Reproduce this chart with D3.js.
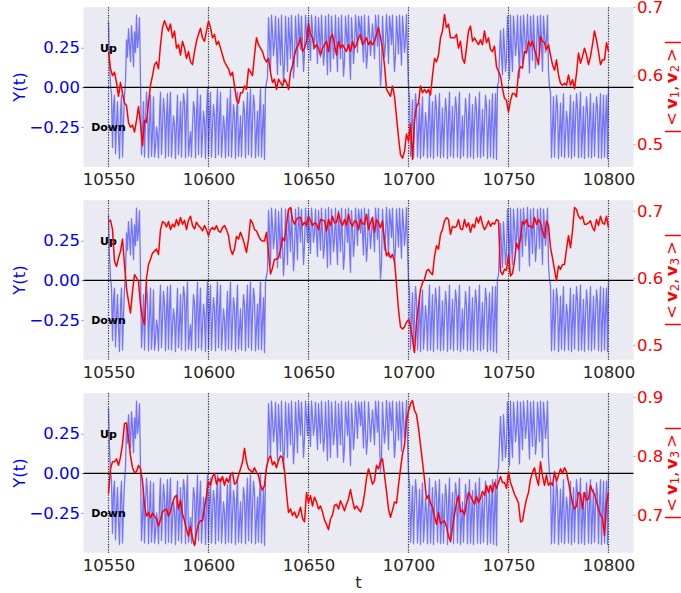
<!DOCTYPE html>
<html>
<head>
<meta charset="utf-8">
<script src="https://cdn.jsdelivr.net/npm/d3@7/dist/d3.min.js"></script>
<style>
  body { margin: 0; background: #ffffff; }
  svg { display: block; }
  text { font-family: "DejaVu Sans", "Liberation Sans", sans-serif; }
</style>
</head>
<body>
<svg id="chart" width="681" height="593"></svg>
<script>
// ---- time axis ----
const tStart = 10550, tEnd = 10800;
const xTicks = [10550, 10600, 10650, 10700, 10750, 10800];
const yTicks = [-0.25, 0, 0.25];

// ---- Y(t): half-unit samples, one array per regime ----
const ySegStart = [
  0.41, 0.16, 0.01, -0.04, -0.38, -0.12, -0.05, -0.42, -0.24, -0.09,
  -0.30, -0.45, -0.16, -0.05, -0.44, -0.22, -0.06, 0.04, 0.30, 0.19,
  0.37, 0.27, 0.16, 0.39, 0.29, 0.13, 0.35, 0.22, 0.455, 0.25,
  0.31, 0.44, 0.04
];
const ySegDown1 = [
  -0.425, -0.28, -0.09,  -0.44, -0.20, -0.03, -0.12,  -0.445, -0.22, -0.05,
  -0.435, -0.30, -0.06,  -0.44, -0.38, -0.25, -0.30,  -0.445, -0.18, -0.03,
  -0.425, -0.25, -0.07, -0.15,  -0.445, -0.20, -0.04,  -0.435, -0.16, -0.03,
  -0.44, -0.30, -0.18, -0.24,  -0.45, -0.22, -0.05,  -0.425, -0.28, -0.09,
  -0.44, -0.19, -0.04, -0.10,  -0.445, -0.15, -0.01,  -0.435, -0.35, -0.28,
  -0.44, -0.24, -0.09, -0.14,  -0.445, -0.18, -0.01,  -0.425, -0.20, -0.05,
  -0.44, -0.30, -0.15, -0.22,  -0.45, -0.17, -0.01,  -0.435, -0.19, -0.03,
  -0.44, -0.26, -0.11, -0.18,  -0.445, -0.15, -0.01,  -0.425, -0.20, -0.03,
  -0.44, -0.32, -0.18, -0.25,  -0.445, -0.22, -0.07,  -0.435, -0.16, -0.01,
  -0.44, -0.27, -0.11, -0.17,  -0.45, -0.19, -0.03,  -0.435, -0.31, -0.18,
  -0.44, -0.24, -0.09, -0.15,  -0.445, -0.18, -0.03,  -0.425, -0.16, -0.01,
  -0.44, -0.22, -0.05, -0.11,  -0.445, -0.29, -0.15,  -0.435, -0.15, -0.01,
  -0.44, -0.26, -0.11,  -0.456, -0.01
];
const ySegUp1 = [
  0.03, 0.06,
  0.44, 0.30, 0.10,  0.455, 0.35, 0.20, 0.28,  0.45, 0.25, 0.08,
  0.435, 0.30, 0.14,  0.455, 0.22, 0.03, 0.15,  0.45, 0.28, 0.10,
  0.44, 0.32, 0.18,  0.455, 0.26, 0.06, 0.18,  0.45, 0.30, 0.13,
  0.46, 0.35, 0.24,  0.45, 0.28, 0.10, 0.22,  0.455, 0.35, 0.24,
  0.44, 0.30, 0.17,  0.455, 0.36, 0.24, 0.30,  0.45, 0.29, 0.15,
  0.44, 0.32, 0.19,  0.455, 0.30, 0.14, 0.22,  0.45, 0.26, 0.08,
  0.46, 0.28, 0.10,  0.45, 0.32, 0.18, 0.26,  0.455, 0.25, 0.10,
  0.44, 0.30, 0.18,  0.455, 0.26, 0.07, 0.16,  0.45, 0.34, 0.24,
  0.455, 0.20, 0.05,  0.44, 0.32, 0.15, 0.25,  0.455, 0.35, 0.22,
  0.45, 0.40, 0.30,  0.45, 0.30, 0.16,  0.455, 0.28, 0.12, 0.22,
  0.45, 0.34, 0.20, 0.30,  0.40, 0.30, 0.18,  0.455, 0.37, 0.26,
  0.455, 0.20, 0.01, 0.10,  0.45, 0.30, 0.19, 0.28,  0.46, 0.33, 0.15,
  0.45, 0.38, 0.27,  0.455, 0.26, 0.10, 0.20,  0.45, 0.33, 0.21,
  0.455, 0.30, 0.14,  0.45, 0.35, 0.22, 0.30,  0.46, 0.20, 0.0
];
const ySegDown2 = [
  -0.06,
  -0.435, -0.25, -0.08,  -0.445, -0.22, -0.04, -0.12,  -0.44, -0.28, -0.10,
  -0.45, -0.20, -0.06,  -0.435, -0.32, -0.16, -0.24,  -0.445, -0.19, -0.03,
  -0.44, -0.26, -0.09,  -0.45, -0.22, -0.05, -0.14,  -0.435, -0.18, -0.04,
  -0.445, -0.30, -0.13,  -0.44, -0.24, -0.07, -0.15,  -0.45, -0.20, -0.03,
  -0.435, -0.28, -0.12,  -0.445, -0.21, -0.06, -0.13,  -0.44, -0.17, -0.03,
  -0.45, -0.31, -0.18,  -0.435, -0.23, -0.07, -0.16,  -0.445, -0.20, -0.04,
  -0.44, -0.27, -0.11,  -0.45, -0.22, -0.06, -0.14,  -0.44, -0.18, -0.03,
  -0.445, -0.29, -0.14,  -0.435, -0.22, -0.05, -0.12,  -0.45, -0.25, -0.08,
  -0.44, -0.20, -0.04,  -0.45, -0.25, -0.04,
  -0.456, 0.01, 0.03
];
const ySegUp2 = [
  0.20,
  0.36, 0.20, 0.08,  0.37, 0.25, 0.10, 0.18,  0.45, 0.30, 0.05,
  0.455, 0.22, 0.10,  0.45, 0.35, 0.20, 0.28,  0.455, 0.24, 0.06,
  0.45, 0.30, 0.15,  0.455, 0.36, 0.22, 0.30,  0.46, 0.26, 0.09,
  0.45, 0.32, 0.17,  0.455, 0.30, 0.12, 0.22,  0.45, 0.34, 0.20,
  0.455, 0.28, 0.10,  0.45, 0.35, 0.22, 0.30,  0.455, 0.10, 0.0,
  -0.03
];
const ySegDown3 = [
  -0.445, -0.25, -0.06,  -0.44, -0.22, -0.05, -0.12,  -0.45, -0.28, -0.10,
  -0.435, -0.20, -0.04,  -0.445, -0.31, -0.15, -0.22,  -0.44, -0.20, -0.05,
  -0.45, -0.26, -0.09,  -0.435, -0.21, -0.04, -0.13,  -0.445, -0.18, -0.03,
  -0.44, -0.29, -0.12,  -0.45, -0.23, -0.06, -0.15,  -0.44, -0.20, -0.04,
  -0.445, -0.27, -0.10,  -0.435, -0.22, -0.06, -0.13,  -0.445, -0.19, -0.04,
  -0.45, -0.25, -0.05,  -0.44, -0.20, -0.05,  -0.45, -0.01
];
const yValues = [].concat(ySegStart, ySegDown1, ySegUp1, ySegDown2, ySegUp2, ySegDown3);

// ---- overlaps |<v_i, v_j>|, one value per unit of t (10550 ... 10800) ----
const overlap12 = [
  0.635, 0.61, 0.60, 0.605, 0.59, 0.57, 0.59, 0.575, 0.56, 0.557,
  0.532, 0.525, 0.528, 0.518, 0.535, 0.555, 0.53, 0.498, 0.535, 0.532,
  0.56, 0.586, 0.60, 0.616, 0.62, 0.61, 0.645, 0.67, 0.68, 0.672,
  0.665, 0.675, 0.655, 0.665, 0.64, 0.645, 0.63, 0.65, 0.64, 0.625,
  0.635, 0.62, 0.616, 0.635, 0.65, 0.66, 0.669, 0.655, 0.65, 0.665,
  0.679, 0.67, 0.655, 0.66, 0.645, 0.65, 0.64, 0.63, 0.62, 0.615,
  0.61, 0.60, 0.605, 0.585, 0.565, 0.56, 0.575, 0.575, 0.585, 0.58,
  0.61, 0.605, 0.60, 0.63, 0.655, 0.645, 0.64, 0.635, 0.625, 0.62,
  0.625, 0.605, 0.59, 0.595, 0.58, 0.595, 0.59, 0.585, 0.595, 0.59,
  0.58, 0.605, 0.615, 0.63, 0.64, 0.645, 0.655, 0.635, 0.64, 0.65,
  0.675, 0.66, 0.655, 0.64, 0.645, 0.64, 0.63, 0.64, 0.645, 0.65,
  0.635, 0.655, 0.66, 0.645, 0.63, 0.65, 0.64, 0.645, 0.64, 0.635,
  0.645, 0.635, 0.65, 0.64, 0.645, 0.655, 0.66, 0.645, 0.65, 0.655,
  0.645, 0.65, 0.645, 0.65, 0.66, 0.67, 0.655, 0.64, 0.615, 0.58,
  0.575, 0.57, 0.585, 0.57, 0.54, 0.51, 0.485, 0.48, 0.49, 0.515,
  0.505, 0.53, 0.478, 0.535, 0.555, 0.56, 0.585, 0.575, 0.58, 0.575,
  0.58, 0.572, 0.60, 0.625, 0.62, 0.63, 0.655, 0.665, 0.689, 0.67,
  0.675, 0.655, 0.655, 0.655, 0.66, 0.64, 0.65, 0.625, 0.618, 0.64,
  0.665, 0.672, 0.65, 0.655, 0.65, 0.645, 0.652, 0.645, 0.665, 0.648,
  0.655, 0.638, 0.635, 0.643, 0.613, 0.606, 0.599, 0.581, 0.567, 0.564,
  0.547, 0.564, 0.574, 0.574, 0.569, 0.606, 0.613, 0.611, 0.635, 0.633,
  0.65, 0.643, 0.65, 0.638, 0.628, 0.616, 0.657, 0.65, 0.648, 0.638,
  0.645, 0.63, 0.616, 0.608, 0.623, 0.601, 0.589, 0.586, 0.589, 0.586,
  0.601, 0.586, 0.594, 0.581, 0.603, 0.633, 0.618, 0.628, 0.64, 0.63,
  0.616, 0.628, 0.645, 0.665, 0.652, 0.635, 0.616, 0.623, 0.623, 0.648,
  0.635
];
const overlap23 = [
  0.684, 0.686, 0.672, 0.625, 0.617, 0.63, 0.64, 0.658, 0.62, 0.585,
  0.565, 0.548, 0.58, 0.605, 0.60, 0.595, 0.56, 0.54, 0.531, 0.60,
  0.62, 0.628, 0.637, 0.64, 0.643, 0.635, 0.672, 0.684, 0.682, 0.676,
  0.684, 0.672, 0.68, 0.676, 0.687, 0.678, 0.69, 0.68, 0.686, 0.672,
  0.686, 0.692, 0.678, 0.673, 0.683, 0.678, 0.675, 0.67, 0.678, 0.672,
  0.663, 0.672, 0.675, 0.672, 0.678, 0.67, 0.668, 0.675, 0.678, 0.672,
  0.663, 0.643, 0.635, 0.643, 0.662, 0.658, 0.668, 0.66, 0.65, 0.638,
  0.658, 0.687, 0.682, 0.672, 0.67, 0.663, 0.657, 0.655, 0.655, 0.668,
  0.638, 0.606, 0.615, 0.628, 0.628, 0.63, 0.643, 0.66, 0.655, 0.68,
  0.702, 0.705, 0.687, 0.68, 0.687, 0.69, 0.69, 0.678, 0.683, 0.678,
  0.692, 0.685, 0.678, 0.682, 0.68, 0.672, 0.687, 0.686, 0.685, 0.67,
  0.687, 0.678, 0.692, 0.682, 0.683, 0.697, 0.684, 0.678, 0.687, 0.678,
  0.695, 0.682, 0.677, 0.685, 0.684, 0.672, 0.687, 0.681, 0.68, 0.695,
  0.672, 0.682, 0.69, 0.668, 0.687, 0.682, 0.675, 0.685, 0.655, 0.633,
  0.638, 0.63, 0.635, 0.625, 0.59, 0.553, 0.527, 0.524, 0.527, 0.534,
  0.538, 0.528, 0.51, 0.489, 0.535, 0.558, 0.583, 0.593, 0.598, 0.61,
  0.613, 0.608, 0.605, 0.632, 0.648, 0.643, 0.665, 0.672, 0.685, 0.69,
  0.687, 0.665, 0.677, 0.675, 0.677, 0.687, 0.673, 0.672, 0.687, 0.676,
  0.682, 0.668, 0.68, 0.675, 0.69, 0.682, 0.692, 0.68, 0.672, 0.677,
  0.685, 0.677, 0.682, 0.68, 0.687, 0.685, 0.61, 0.605, 0.613, 0.612,
  0.635, 0.603, 0.607, 0.625, 0.652, 0.643, 0.66, 0.684, 0.68, 0.687,
  0.677, 0.677, 0.675, 0.69, 0.68, 0.687, 0.682, 0.67, 0.66, 0.685,
  0.678, 0.645, 0.63, 0.612, 0.596, 0.618, 0.613, 0.62, 0.62, 0.643,
  0.663, 0.645, 0.67, 0.705, 0.702, 0.692, 0.688, 0.692, 0.68, 0.68,
  0.682, 0.685, 0.675, 0.67, 0.687, 0.678, 0.692, 0.682, 0.68, 0.692,
  0.675
];
const overlap13 = [
  0.736, 0.778, 0.79, 0.79, 0.795, 0.784, 0.798, 0.82, 0.855, 0.856,
  0.83, 0.80, 0.78, 0.772, 0.773, 0.784, 0.778, 0.757, 0.716, 0.698,
  0.704, 0.695, 0.703, 0.698, 0.693, 0.681, 0.692, 0.705, 0.708, 0.71,
  0.698, 0.706, 0.72, 0.73, 0.733, 0.71, 0.725, 0.702, 0.69, 0.675,
  0.664, 0.68, 0.66, 0.648, 0.67, 0.685, 0.69, 0.69, 0.712, 0.733,
  0.756, 0.75, 0.765, 0.77, 0.752, 0.762, 0.756, 0.765, 0.75, 0.762,
  0.755, 0.768, 0.772, 0.752, 0.755, 0.767, 0.778, 0.79, 0.813, 0.79,
  0.778, 0.775, 0.772, 0.78, 0.772, 0.767, 0.75, 0.742, 0.75, 0.78,
  0.795, 0.80, 0.785, 0.79, 0.78, 0.792, 0.80, 0.797, 0.775, 0.737,
  0.704, 0.71, 0.699, 0.705, 0.695, 0.701, 0.713, 0.694, 0.688, 0.738,
  0.72, 0.733, 0.715, 0.73, 0.722, 0.71, 0.715, 0.705, 0.691, 0.684,
  0.675, 0.693, 0.70, 0.716, 0.718, 0.71, 0.724, 0.716, 0.707, 0.718,
  0.727, 0.743, 0.725, 0.71, 0.715, 0.71, 0.705, 0.715, 0.735, 0.762,
  0.778, 0.766, 0.752, 0.758, 0.784, 0.778, 0.79, 0.795, 0.767, 0.74,
  0.71, 0.696, 0.708, 0.722, 0.72, 0.75, 0.778, 0.803, 0.818, 0.86,
  0.876, 0.888, 0.894, 0.877, 0.87, 0.847, 0.818, 0.79, 0.76, 0.727,
  0.733, 0.72, 0.713, 0.698, 0.684, 0.704, 0.685, 0.688, 0.69, 0.68,
  0.664, 0.655, 0.68, 0.70, 0.72, 0.733, 0.705, 0.708, 0.70, 0.72,
  0.738, 0.732, 0.725, 0.718, 0.732, 0.721, 0.728, 0.74, 0.733, 0.75,
  0.738, 0.75, 0.738, 0.755, 0.745, 0.755, 0.765, 0.755, 0.755, 0.745,
  0.773, 0.755, 0.745, 0.735, 0.728, 0.72, 0.688, 0.69, 0.71, 0.727,
  0.738, 0.761, 0.772, 0.78, 0.762, 0.75, 0.79, 0.766, 0.75, 0.768,
  0.75, 0.755, 0.75, 0.773, 0.757, 0.767, 0.778, 0.77, 0.78, 0.773,
  0.755, 0.737, 0.72, 0.71, 0.715, 0.738, 0.735, 0.71, 0.738, 0.725,
  0.727, 0.75, 0.74, 0.735, 0.722, 0.71, 0.70, 0.695, 0.665, 0.72,
  0.738
];
const overlapPairs = [["1", "2"], ["2", "3"], ["1", "3"]];
const overlapTicks = [[0.5, 0.6, 0.7], [0.5, 0.6, 0.7], [0.7, 0.8, 0.9]];
const overlapSeries = [overlap12, overlap23, overlap13];

// ---- layout ----
const left = 83.5, right = 633.5;
const panelTop = [7.2, 200.2, 393.2];
const panelH = 159.6;
const bg = "#EAEAF2";
const fs = 16.5;

const svg = d3.select("#chart");

// autoscale with 5% margins on each side
function padded(lo, hi) {
  const m = (hi - lo) * 0.05;
  return [lo - m, hi + m];
}
const x = d3.scaleLinear().domain(padded(tStart, tEnd)).range([left, right]);
const timeOf = n => (i => tStart + i * (tEnd - tStart) / (n - 1));
const tY = timeOf(yValues.length);
const yDomain = padded(d3.min(yValues), d3.max(yValues));

overlapSeries.forEach((series, k) => {
  const top = panelTop[k], bottom = top + panelH, mid = top + panelH / 2;
  const g = svg.append("g");

  g.append("rect")
    .attr("x", left).attr("y", top)
    .attr("width", right - left).attr("height", panelH)
    .attr("fill", bg);

  const yL = d3.scaleLinear().domain(yDomain).range([bottom, top]);
  const yR = d3.scaleLinear().domain(padded(d3.min(series), d3.max(series))).range([bottom, top]);

  // Y(t)
  g.append("path")
    .datum(yValues)
    .attr("fill", "none")
    .attr("stroke", "blue")
    .attr("stroke-opacity", 0.5)
    .attr("stroke-width", 1.3)
    .attr("stroke-linejoin", "round")
    .attr("d", d3.line().x((d, i) => x(tY(i))).y(d => yL(d)));

  // zero line
  g.append("line")
    .attr("x1", left).attr("x2", right)
    .attr("y1", yL(0)).attr("y2", yL(0))
    .attr("stroke", "#000").attr("stroke-width", 1.3);

  // dotted markers every 50 time units
  g.selectAll("line.vmark").data(xTicks).join("line")
    .attr("class", "vmark")
    .attr("x1", d => x(d)).attr("x2", d => x(d))
    .attr("y1", top).attr("y2", bottom)
    .attr("stroke", "#2a2a2a").attr("stroke-width", 1.2)
    .attr("stroke-dasharray", "1.2 1.4");

  // Up / Down annotations
  [["Up", 0.25], ["Down", -0.25]].forEach(([label, v]) => {
    g.append("text")
      .attr("x", x(tStart)).attr("y", yL(v) + 4)
      .attr("text-anchor", "middle")
      .attr("font-size", 11).attr("font-weight", "bold")
      .attr("fill", "#000")
      .text(label);
  });

  // overlap curve on the right-hand scale
  const tR = timeOf(series.length);
  g.append("path")
    .datum(series)
    .attr("fill", "none")
    .attr("stroke", "red")
    .attr("stroke-width", 1.5)
    .attr("stroke-linejoin", "round")
    .attr("d", d3.line().x((d, i) => x(tR(i))).y(d => yR(d)));

  // bottom axis
  const ax = g.append("g")
    .attr("transform", `translate(0,${bottom})`)
    .call(d3.axisBottom(x).tickValues(xTicks).tickSize(0).tickPadding(6).tickFormat(d3.format("d")));
  ax.select(".domain").remove();
  ax.selectAll("text").attr("font-size", fs).attr("fill", "#262626")
    .attr("font-family", "DejaVu Sans");

  // left axis
  const al = g.append("g")
    .attr("transform", `translate(${left},0)`)
    .call(d3.axisLeft(yL).tickValues(yTicks).tickSize(2).tickPadding(1.5)
      .tickFormat(d => (d < 0 ? "\u2212" : "") + Math.abs(d).toFixed(2)));
  al.select(".domain").remove();
  al.selectAll("line").attr("stroke", "#0000ff").attr("stroke-opacity", 0.5);
  al.selectAll("text").attr("font-size", fs).attr("fill", "#0000ff")
    .attr("font-family", "DejaVu Sans");

  // right axis
  const ar = g.append("g")
    .attr("transform", `translate(${right},0)`)
    .call(d3.axisRight(yR).tickValues(overlapTicks[k]).tickSize(2).tickPadding(1.5)
      .tickFormat(d => d.toFixed(1)));
  ar.select(".domain").remove();
  ar.selectAll("line").attr("stroke", "#ff0000").attr("stroke-opacity", 0.5);
  ar.selectAll("text").attr("font-size", fs).attr("fill", "#ff0000")
    .attr("font-family", "DejaVu Sans");

  // left axis title
  svg.append("text")
    .attr("transform", `translate(24.5,${mid}) rotate(-90)`)
    .attr("text-anchor", "middle")
    .attr("font-size", fs).attr("fill", "#0000ff")
    .text("Y(t)");

  // right axis title: |<v_i, v_j>|
  const [a, b] = overlapPairs[k];
  const rt = svg.append("text")
    .attr("transform", `translate(676.5,${mid}) rotate(-90)`)
    .attr("text-anchor", "middle")
    .attr("font-size", fs).attr("fill", "#ff0000");
  rt.append("tspan").text("|");
  rt.append("tspan").attr("dx", 3).text("<");
  rt.append("tspan").attr("dx", 3).attr("font-weight", "bold").text("v");
  rt.append("tspan").attr("dy", 2.5).attr("font-size", 11.5).text(a);
  rt.append("tspan").attr("dy", -2.5).text(",");
  rt.append("tspan").attr("dx", 2.5).attr("font-weight", "bold").text("v");
  rt.append("tspan").attr("dy", 2.5).attr("font-size", 11.5).text(b);
  rt.append("tspan").attr("dy", -2.5).attr("dx", 3).text(">");
  rt.append("tspan").attr("dx", 3).text("|");
});

// x axis title
svg.append("text")
  .attr("x", (left + right) / 2).attr("y", 588)
  .attr("text-anchor", "middle")
  .attr("font-size", fs).attr("fill", "#262626")
  .text("t");
</script>
</body>
</html>
